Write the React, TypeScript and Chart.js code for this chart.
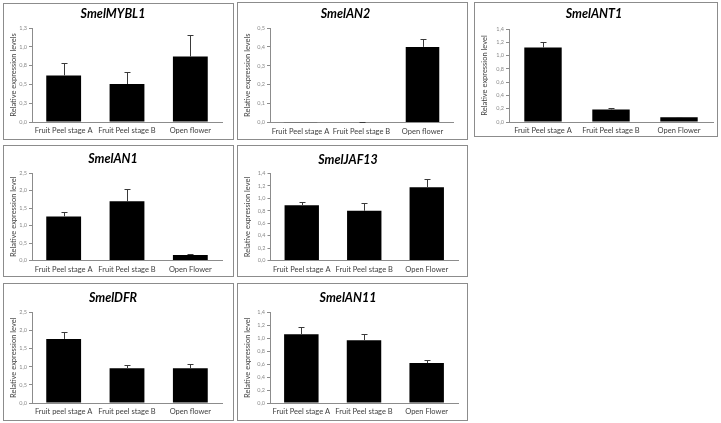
import React, { useEffect, useRef } from "react";
import { Chart, registerables } from "chart.js";

Chart.register(...registerables);

// ---------- data ----------
const categoriesOpenFlowerLower = ["Fruit Peel stage A", "Fruit Peel stage B", "Open flower"];
const categoriesOpenFlowerUpper = ["Fruit Peel stage A", "Fruit Peel stage B", "Open Flower"];
const categoriesPeelLower = ["Fruit peel stage A", "Fruit peel stage B", "Open flower"];

const mybl1Values = [0.62, 0.505, 0.87];
const mybl1Errors = [0.17, 0.155, 0.29];
const an2Values = [0.001, 0.002, 0.4];
const an2Errors = [0.0, 0.001, 0.04];
const ant1Values = [1.12, 0.19, 0.07];
const ant1Errors = [0.09, 0.02, 0.01];
const an1Values = [1.26, 1.69, 0.16];
const an1Errors = [0.12, 0.34, 0.03];
const jaf13Values = [0.89, 0.8, 1.18];
const jaf13Errors = [0.045, 0.12, 0.13];
const dfrValues = [1.77, 0.96, 0.96];
const dfrErrors = [0.18, 0.08, 0.11];
const an11Values = [1.065, 0.97, 0.617];
const an11Errors = [0.115, 0.105, 0.043];

const ticks125 = [0, 0.25, 0.5, 0.75, 1.0, 1.25];
const ticks125Labels = ["0,0", "0,3", "0,5", "0,8", "1,0", "1,3"];
const ticks05 = [0, 0.1, 0.2, 0.3, 0.4, 0.5];
const ticks05Labels = ["0,0", "0,1", "0,2", "0,3", "0,4", "0,5"];
const ticks14 = [0, 0.2, 0.4, 0.6, 0.8, 1.0, 1.2, 1.4];
const ticks14Labels = ["0,0", "0,2", "0,4", "0,6", "0,8", "1,0", "1,2", "1,4"];
const ticks25 = [0, 0.5, 1.0, 1.5, 2.0, 2.5];
const ticks25Labels = ["0,0", "0,5", "1,0", "1,5", "2,0", "2,5"];

const titleLevels = "Relative expression levels";
const titleLevel = "Relative expression level";

// ---------- layout (positions only) ----------
type Frame = {
  left: number; top: number; width: number; height: number;
  axisX: number; plotTop: number; plotBottom: number; plotRight: number; titleY: number;
};

type PanelSpec = {
  name: string;
  categories: string[];
  values: number[];
  errors: number[];
  ticks: number[];
  tickLabels: string[];
  yTitle: string;
  frame: Frame;
};

const panels: PanelSpec[] = [
  { name: "SmelMYBL1", categories: categoriesOpenFlowerLower, values: mybl1Values, errors: mybl1Errors, ticks: ticks125, tickLabels: ticks125Labels, yTitle: titleLevels,
    frame: { left: 3, top: 3, width: 231, height: 137, axisX: 32, plotTop: 28, plotBottom: 122, plotRight: 222, titleY: 13.5 } },
  { name: "SmelAN2", categories: categoriesOpenFlowerLower, values: an2Values, errors: an2Errors, ticks: ticks05, tickLabels: ticks05Labels, yTitle: titleLevels,
    frame: { left: 237, top: 2, width: 231, height: 138, axisX: 270, plotTop: 28, plotBottom: 122.5, plotRight: 453, titleY: 14 } },
  { name: "SmelANT1", categories: categoriesOpenFlowerUpper, values: ant1Values, errors: ant1Errors, ticks: ticks14, tickLabels: ticks14Labels, yTitle: titleLevel,
    frame: { left: 474, top: 2, width: 244, height: 135, axisX: 509, plotTop: 29, plotBottom: 122, plotRight: 713, titleY: 14 } },
  { name: "SmelAN1", categories: categoriesOpenFlowerUpper, values: an1Values, errors: an1Errors, ticks: ticks25, tickLabels: ticks25Labels, yTitle: titleLevel,
    frame: { left: 3, top: 145, width: 231, height: 132, axisX: 32, plotTop: 173, plotBottom: 260.5, plotRight: 222, titleY: 159 } },
  { name: "SmelJAF13", categories: categoriesOpenFlowerUpper, values: jaf13Values, errors: jaf13Errors, ticks: ticks14, tickLabels: ticks14Labels, yTitle: titleLevel,
    frame: { left: 237, top: 145, width: 231, height: 132, axisX: 270.5, plotTop: 173.5, plotBottom: 260.5, plotRight: 458, titleY: 159.5 } },
  { name: "SmelDFR", categories: categoriesPeelLower, values: dfrValues, errors: dfrErrors, ticks: ticks25, tickLabels: ticks25Labels, yTitle: titleLevel,
    frame: { left: 3, top: 283, width: 231, height: 138, axisX: 32, plotTop: 312.5, plotBottom: 403, plotRight: 222, titleY: 298 } },
  { name: "SmelAN11", categories: categoriesOpenFlowerUpper, values: an11Values, errors: an11Errors, ticks: ticks14, tickLabels: ticks14Labels, yTitle: titleLevel,
    frame: { left: 237, top: 283, width: 231, height: 138, axisX: 270, plotTop: 312.5, plotBottom: 403, plotRight: 458, titleY: 297.5 } },
];

const FONT = "Lato, 'Open Sans', sans-serif";

const errorBarPlugin = {
  id: "errorBars",
  afterDatasetsDraw(chart: any, _args: any, opts: any) {
    const errs: number[] = opts.errors || [];
    const meta = chart.getDatasetMeta(0);
    const yScale = chart.scales.y;
    const vals: number[] = chart.data.datasets[0].data as number[];
    const ctx = chart.ctx;
    ctx.save();
    ctx.strokeStyle = "#3a3a3a";
    ctx.lineWidth = 1;
    meta.data.forEach((el: any, i: number) => {
      const e = errs[i] || 0;
      if (e <= 0) return;
      const x = Math.round(el.x) + 0.5;
      const yB = el.y;
      const yT = Math.round(yScale.getPixelForValue(vals[i] + e)) + 0.5;
      ctx.beginPath();
      ctx.moveTo(x, yB);
      ctx.lineTo(x, yT);
      ctx.moveTo(x - 3, yT);
      ctx.lineTo(x + 3, yT);
      ctx.stroke();
    });
    ctx.restore();
  },
};

function Panel({ spec }: { spec: PanelSpec }) {
  const ref = useRef<HTMLCanvasElement | null>(null);
  const f = spec.frame;
  const cw = f.width - 2;
  const ch = f.height - 2;
  const cLeft = f.left + 1;
  const cTop = f.top + 1;

  useEffect(() => {
    if (!ref.current) return;
    const titleSize = 12.5;
    const titleLH = titleSize * 1.2;
    const pTop = Math.max(0, f.titleY - cTop - titleLH / 2);
    const pBottom = Math.max(0, f.plotTop - cTop - pTop - titleLH);
    const yWidth = f.axisX - cLeft;
    const xHeight = cTop + ch - f.plotBottom;
    const rightPad = cLeft + cw - f.plotRight;
    const yTitleSize = 7.5;

    const chart = new Chart(ref.current, {
      type: "bar",
      data: {
        labels: spec.categories,
        datasets: [
          {
            data: spec.values,
            backgroundColor: "#000000",
            borderWidth: 0,
            barPercentage: 0.55,
            categoryPercentage: 1.0,
          },
        ],
      },
      options: {
        animation: false,
        responsive: false,
        devicePixelRatio: 1,
        layout: { padding: { top: 0, left: 0, bottom: 0, right: rightPad } },
        plugins: {
          legend: { display: false },
          tooltip: { enabled: false },
          title: {
            display: true,
            text: spec.name,
            color: "#000000",
            font: { family: FONT, size: titleSize, weight: "bold", style: "italic", lineHeight: 1.2 },
            padding: { top: pTop, bottom: pBottom },
          },
          errorBars: { errors: spec.errors },
        } as any,
        scales: {
          x: {
            grid: { display: false, drawTicks: false, tickLength: 0 },
            border: { display: true, color: "#8c8c8c", width: 1 },
            ticks: {
              color: "#404040",
              font: { family: FONT, size: 7.5, lineHeight: 1 },
              padding: 5,
              maxRotation: 0,
              minRotation: 0,
              autoSkip: false,
            },
            afterFit: (s: any) => { s.height = xHeight; },
          },
          y: {
            min: 0,
            max: spec.ticks[spec.ticks.length - 1],
            afterBuildTicks: (s: any) => {
              s.ticks = spec.ticks.map((v) => ({ value: v }));
            },
            grid: { drawOnChartArea: false, drawTicks: true, tickLength: 3, color: "#8c8c8c" },
            border: { display: true, color: "#8c8c8c", width: 1 },
            ticks: {
              color: "#8a8a8a",
              font: { family: FONT, size: 5.5 },
              padding: 2,
              callback: (_v: any, i: number) => spec.tickLabels[i],
            },
            title: {
              display: true,
              text: spec.yTitle,
              color: "#404040",
              font: { family: FONT, size: yTitleSize, lineHeight: 1.2 },
              padding: { top: Math.max(0, 10 - (yTitleSize * 1.2) / 2), bottom: 0 },
            },
            afterFit: (s: any) => { s.width = yWidth; },
          },
        },
      },
      plugins: [errorBarPlugin],
    });
    return () => chart.destroy();
  }, []);

  return (
    <div
      style={{
        position: "absolute",
        left: f.left,
        top: f.top,
        width: f.width,
        height: f.height,
        boxSizing: "border-box",
        border: "1px solid #8c8c8c",
        background: "#ffffff",
      }}
    >
      <canvas ref={ref} width={cw} height={ch} style={{ display: "block", width: cw, height: ch }} />
    </div>
  );
}

export default function App() {
  return (
    <div style={{ position: "fixed", left: 0, top: 0, width: 721, height: 423, background: "#ffffff" }}>
      {panels.map((p) => (
        <Panel key={p.name} spec={p} />
      ))}
    </div>
  );
}
